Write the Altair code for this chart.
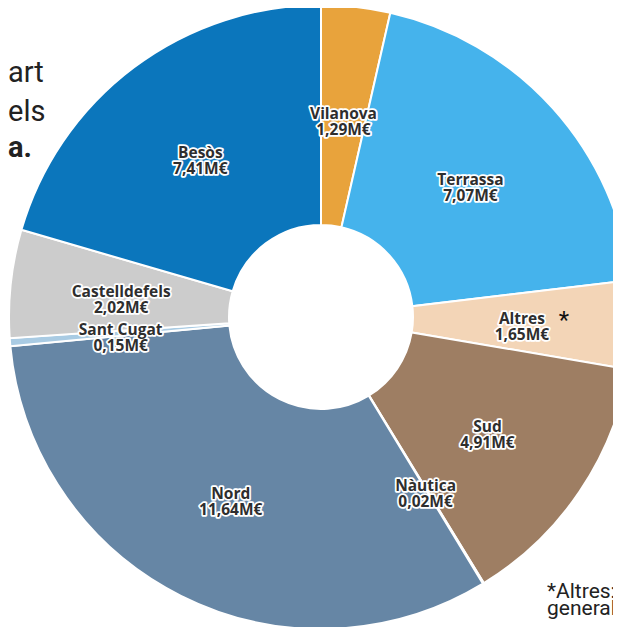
import altair as alt
import pandas as pd

# Data
zones = ["Vilanova", "Terrassa", "Altres", "Sud", "Nàutica", "Nord", "Sant Cugat", "Castelldefels", "Besòs"]
values = [1.29, 7.07, 1.65, 4.91, 0.02, 11.64, 0.15, 2.02, 7.41]
value_labels = ["1,29M€", "7,07M€", "1,65M€", "4,91M€", "0,02M€", "11,64M€", "0,15M€", "2,02M€", "7,41M€"]
colors = ["#E8A33C", "#45B3EC", "#F3D5B7", "#9E7E63", "#C9D9E8", "#6686A5", "#A9CBE3", "#CCCCCC", "#0B76BC"]

left_fragments = ["art", "els", "a."]
footnote_lines = ["*Altres:", "generals"]

df = pd.DataFrame({
    "zona": zones,
    "valor": values,
    "ordre": list(range(len(zones))),
    "etiqueta": [f"{z}\n{v}" for z, v in zip(zones, value_labels)],
})

CX, CY = 313, 309

theta = alt.Theta("valor:Q", stack=True)
order = alt.Order("ordre:Q", sort="ascending")
color = alt.Color("zona:N", scale=alt.Scale(domain=zones, range=colors), legend=None)

base = alt.Chart(df)

arcs = base.mark_arc(innerRadius=92, outerRadius=312, stroke="white", strokeWidth=2).encode(
    theta=theta, order=order, color=color, x=alt.value(CX), y=alt.value(CY)
)

label_props = dict(radius=201, dy=-3, font="Open Sans", fontSize=15.5, fontWeight="bold",
                   lineBreak="\n", lineHeight=16, align="center", baseline="middle")

halo = base.mark_text(fill="white", stroke="white", strokeWidth=3.5, strokeJoin="round", **label_props).encode(
    theta=theta, order=order, text="etiqueta:N", x=alt.value(CX), y=alt.value(CY)
)
labels = base.mark_text(fill="#2e2e2e", **label_props).encode(
    theta=theta, order=order, text="etiqueta:N", x=alt.value(CX), y=alt.value(CY)
)

star = base.transform_calculate(star="'*'").mark_text(
    radius=201, dx=42, dy=-1, font="Roboto", fontSize=24, fill="#111", align="center", baseline="middle"
).encode(
    theta=theta, order=order, x=alt.value(CX), y=alt.value(CY),
    text=alt.condition(alt.datum.zona == "Altres", "star:N", alt.value("")),
)

frag_layers = []
frag_pos = [(0, 74, "normal"), (0, 113, "normal"), (0, 149, "bold")]
for txt, (fx, fy, fw) in zip(left_fragments, frag_pos):
    frag_layers.append(
        alt.Chart(pd.DataFrame({"t": [txt]})).mark_text(
            font="Roboto", fontSize=29, fontWeight=fw, align="left", baseline="alphabetic", fill="#222"
        ).encode(text="t:N", x=alt.value(fx), y=alt.value(fy))
    )

foot_layers = []
for txt, fy in zip(footnote_lines, [590, 607]):
    foot_layers.append(
        alt.Chart(pd.DataFrame({"t": [txt]})).mark_text(
            font="Roboto", fontSize=21, align="left", baseline="alphabetic", fill="#222"
        ).encode(text="t:N", x=alt.value(539), y=alt.value(fy))
    )

chart = alt.layer(arcs, halo, labels, star, *frag_layers, *foot_layers).properties(
    width=605, height=619, padding=0, autosize=alt.AutoSizeParams(type="none")
).configure_view(stroke=None)

chart.save("out.html", embed_options={"renderer": "svg", "actions": False})
